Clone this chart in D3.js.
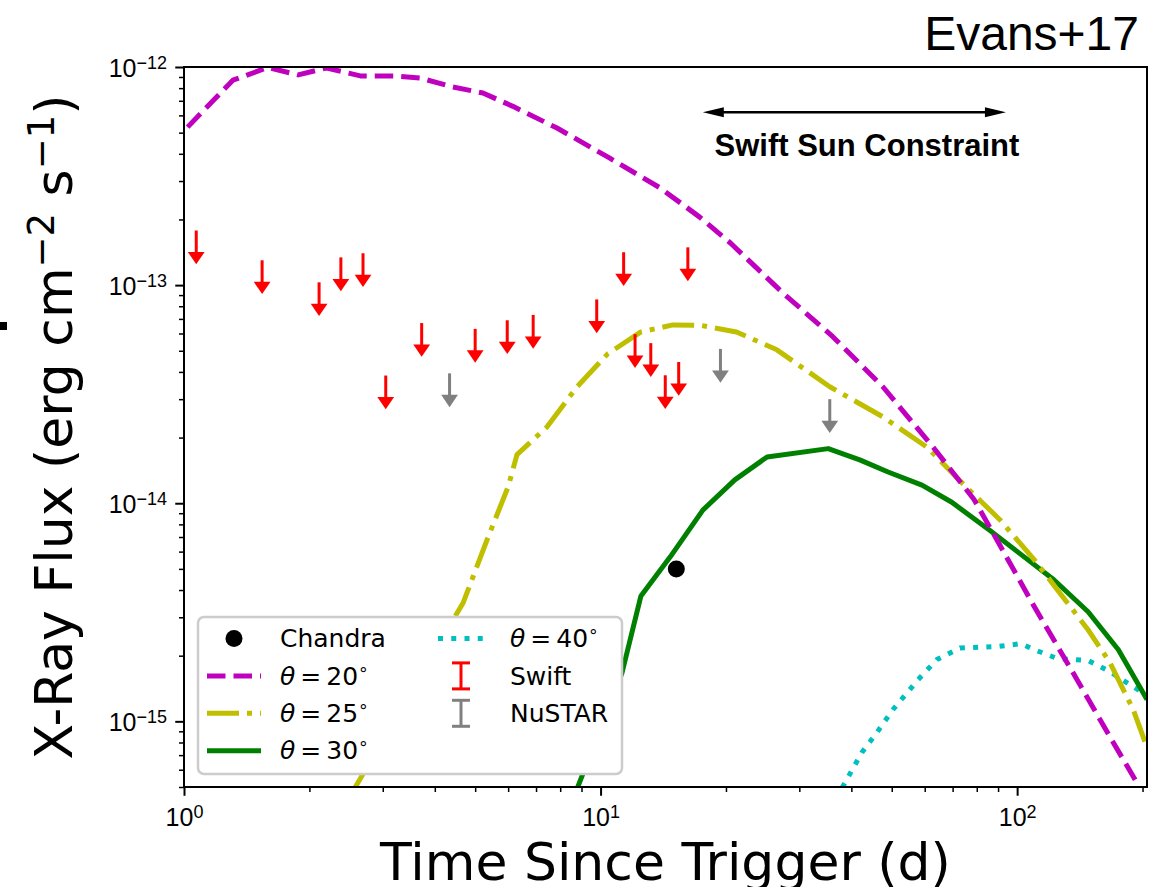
<!DOCTYPE html>
<html>
<head>
<meta charset="utf-8">
<script src="https://cdn.jsdelivr.net/npm/d3@7"></script>
<style>
  body { margin: 0; background: #fff; }
  svg { display: block; font-family: "DejaVu Sans", sans-serif; }
</style>
</head>
<body>
<svg id="chart" width="1165" height="887"></svg>
<script>
// model light curves, [time (d), flux (erg cm^-2 s^-1)]
const theta20 = [[1.02,5.3e-13],[1.31,8.7e-13],[1.59,9.95e-13],[1.88,9.2e-13],[2.2,9.9e-13],[2.65,9.1e-13],
  [3.18,9.1e-13],[3.69,8.9e-13],[4.42,8.1e-13],[5.22,7.6e-13],[6.16,6.6e-13],[7.86,5.25e-13],[10.5,3.83e-13],
  [13.9,2.79e-13],[17.3,2.05e-13],[20.5,1.56e-13],[27.4,9.2e-14],[36.1,5.8e-14],[47.6,3.42e-14],[62.8,1.81e-14],
  [78.8,1.04e-14],[89.4,6.8e-15],[110,3.35e-15],[135,1.72e-15],[167,8.5e-16],[192,5.4e-16]];
const theta25 = [[2.48,4.4e-16],[4.68,3.5e-15],[5.34,6.8e-15],[6.0,1.19e-14],[6.3,1.67e-14],[7.44,2.24e-14],
  [8.78,3.42e-14],[10.4,4.84e-14],[12.5,6.1e-14],[14.9,6.57e-14],[17.3,6.55e-14],[21.2,6.1e-14],[26.5,5.05e-14],
  [35.5,3.42e-14],[47.6,2.49e-14],[60.7,1.81e-14],[72.5,1.28e-14],[90.9,8.4e-15],[110,5.5e-15],[148,2.63e-15],
  [167,1.86e-15],[190,1.13e-15],[205,7.6e-16]];
const theta30 = [[8.59,4.4e-16],[11.26,1.67e-15],[12.5,3.76e-15],[14.7,5.68e-15],[17.6,9.3e-15],[21.0,1.28e-14],
  [25.1,1.63e-14],[35.2,1.78e-14],[41.9,1.58e-14],[49.0,1.39e-14],[59.1,1.21e-14],[69.7,1.01e-14],[85.6,7.55e-15],
  [101,5.92e-15],[122.5,4.46e-15],[148,3.18e-15],[175,2.13e-15],[205,1.26e-15]];
const theta40 = [[36.7,4.4e-16],[42.4,7.2e-16],[46.1,8.9e-16],[50.3,1.13e-15],[57.8,1.55e-15],[64.2,1.92e-15],
  [72.9,2.17e-15],[89.4,2.2e-15],[102,2.27e-15],[110,2.13e-15],[125,1.94e-15],[148,1.9e-15],[167,1.69e-15],
  [190,1.44e-15],[205,1.32e-15]];

// observations
const chandra = [[15.2,5.0e-15]];
const swift = [[1.07,1.78e-13],[1.54,1.3e-13],[2.11,1.03e-13],[2.38,1.34e-13],[2.69,1.4e-13],[3.05,3.85e-14],
  [3.72,6.7e-14],[5.0,6.3e-14],[5.97,6.9e-14],[6.89,7.3e-14],[9.79,8.6e-14],[11.36,1.415e-13],[12.1,5.96e-14],
  [13.2,5.42e-14],[14.3,3.86e-14],[15.4,4.44e-14],[16.2,1.49e-13]];
const nustar = [[4.34,3.94e-14],[19.4,5.1e-14],[35.5,3.0e-14]];

// axes
const xTicks = [1, 10, 100];
const xTickExp = ["0", "1", "2"];
const yTicks = [1e-12, 1e-13, 1e-14, 1e-15];
const yTickExp = ["\u221212", "\u221213", "\u221214", "\u221215"];

// annotation
const sunSpan = [17.6, 94];
const sunLevel = 6.2e-13;
const sunLabelAt = [43.6, 3.9e-13];

const svg = d3.select("#chart");
const L = 184, R = 1147, T = 67, B = 787;

const x = d3.scaleLog().domain([1, 205]).range([L, R]);
const y = d3.scaleLog().domain([5e-16, 1e-12]).range([B, T]);

svg.append("defs").append("clipPath").attr("id", "clip")
  .append("rect").attr("x", L).attr("y", T).attr("width", R - L).attr("height", B - T);

// minor ticks
const xMinor = [], yMinor = [];
for (let d = 0; d <= 2; d++) for (let k = 2; k <= 9; k++) {
  const v = k * Math.pow(10, d);
  if (v <= 205) xMinor.push(v);
}
for (let d = -16; d <= -13; d++) for (let k = 2; k <= 9; k++) {
  const v = k * Math.pow(10, d);
  if (v >= 5e-16 && v <= 1e-12) yMinor.push(v);
}

function axisStyle(g, w) {
  g.select(".domain").remove();
  g.selectAll(".tick line").attr("stroke", "#000").attr("stroke-width", w);
  g.selectAll(".tick text").remove();
}

svg.append("g").attr("transform", `translate(0,${B})`)
  .call(d3.axisBottom(x).tickValues(xMinor).tickSize(5).tickFormat(""))
  .call(g => axisStyle(g, 1.5));
const xMajor = svg.append("g").attr("transform", `translate(0,${B})`)
  .call(d3.axisBottom(x).tickValues(xTicks).tickSize(8.75).tickFormat(""))
  .call(g => axisStyle(g, 2));
svg.append("g").attr("transform", `translate(${L},0)`)
  .call(d3.axisLeft(y).tickValues(yMinor).tickSize(5).tickFormat(""))
  .call(g => axisStyle(g, 1.5));
const yMajor = svg.append("g").attr("transform", `translate(${L},0)`)
  .call(d3.axisLeft(y).tickValues(yTicks).tickSize(8.75).tickFormat(""))
  .call(g => axisStyle(g, 2));

xMajor.selectAll(".tick").each(function(d, i) {
  const t = d3.select(this).append("text").attr("y", 39).attr("text-anchor", "middle")
    .attr("fill", "#000").attr("font-size", 25);
  t.append("tspan").text("10");
  t.append("tspan").attr("font-size", 18).attr("dy", -7.7).text(xTickExp[i]);
});
yMajor.selectAll(".tick").each(function(d, i) {
  const t = d3.select(this).append("text").attr("x", -17).attr("y", 9).attr("text-anchor", "end")
    .attr("fill", "#000").attr("font-size", 25);
  t.append("tspan").text("10");
  t.append("tspan").attr("font-size", 18).attr("dy", -7.7).text(yTickExp[i]);
});

// curves
const plot = svg.append("g").attr("clip-path", "url(#clip)");
const line = d3.line().x(d => x(d[0])).y(d => y(d[1]));
const curves = [
  { data: theta40, color: "#00bfbf", dash: "5,8.25" },
  { data: theta30, color: "#008000", dash: null },
  { data: theta25, color: "#bfbf00", dash: "32,8,5,8" },
  { data: theta20, color: "#bf00bf", dash: "18.5,8" }
];
curves.forEach(c => {
  plot.append("path").datum(c.data).attr("d", line)
    .attr("fill", "none").attr("stroke", c.color).attr("stroke-width", 5)
    .attr("stroke-linejoin", "round")
    .attr("stroke-dasharray", c.dash);
});

// upper limits
function drawLimits(data, color) {
  const g = plot.append("g");
  data.forEach(([t, f]) => {
    const cx = x(t), top = y(f), tip = y(f * 0.7);
    g.append("line").attr("x1", cx).attr("x2", cx).attr("y1", top).attr("y2", tip - 10)
      .attr("stroke", color).attr("stroke-width", 3);
    g.append("path").attr("d", `M${cx - 8.4},${tip - 12.3}L${cx + 8.4},${tip - 12.3}L${cx},${tip}Z`)
      .attr("fill", color);
  });
}
drawLimits(swift, "#ff0000");
drawLimits(nustar, "#808080");

plot.selectAll(".chandra").data(chandra).join("circle")
  .attr("cx", d => x(d[0])).attr("cy", d => y(d[1])).attr("r", 8.5).attr("fill", "#000");

// frame
svg.append("rect").attr("x", L).attr("y", T).attr("width", R - L).attr("height", B - T)
  .attr("fill", "none").attr("stroke", "#000").attr("stroke-width", 2);

// sun constraint annotation
const sy = y(sunLevel), sx0 = x(sunSpan[0]), sx1 = x(sunSpan[1]);
svg.append("line").attr("x1", sx0 + 12).attr("x2", sx1 - 12).attr("y1", sy).attr("y2", sy)
  .attr("stroke", "#000").attr("stroke-width", 2.5);
svg.append("path").attr("d", `M${sx0},${sy}L${sx0 + 21},${sy - 5}L${sx0 + 21},${sy + 5}Z`).attr("fill", "#000");
svg.append("path").attr("d", `M${sx1},${sy}L${sx1 - 21},${sy - 5}L${sx1 - 21},${sy + 5}Z`).attr("fill", "#000");
svg.append("text").attr("x", x(sunLabelAt[0])).attr("y", y(sunLabelAt[1])).attr("text-anchor", "middle")
  .attr("font-family", "Liberation Sans, Arial, sans-serif").attr("font-weight", "bold")
  .attr("font-size", 31).text("Swift Sun Constraint");

svg.append("text").attr("x", 1139).attr("y", 50).attr("text-anchor", "end")
  .attr("font-family", "Liberation Sans, Arial, sans-serif").attr("font-size", 48).text("Evans+17");

// stray crop fragment at the left edge
svg.append("rect").attr("x", 0).attr("y", 322).attr("width", 7).attr("height", 8).attr("fill", "#000");

// axis labels
svg.append("text").attr("x", (L + R) / 2).attr("y", 880).attr("text-anchor", "middle")
  .attr("font-size", 52).text("Time Since Trigger (d)");
const yl = svg.append("text").attr("transform", `translate(72,${(T + B) / 2}) rotate(-90)`)
  .attr("text-anchor", "middle").attr("font-size", 52);
yl.append("tspan").text("X-Ray Flux (erg cm");
yl.append("tspan").attr("font-size", 37).attr("dy", -18).text("\u22122");
yl.append("tspan").attr("dy", 18).text(" s");
yl.append("tspan").attr("font-size", 37).attr("dy", -18).text("\u22121");
yl.append("tspan").attr("dy", 18).text(")");

// legend
const lg = svg.append("g");
lg.append("rect").attr("x", 198).attr("y", 617).attr("width", 424).attr("height", 157).attr("rx", 6)
  .attr("fill", "#fff").attr("stroke", "#cccccc").attr("stroke-width", 2.5);
const rowY = i => 638.5 + i * 37.4;
const col = [{ h0: 207, h1: 261, tx: 280 }, { h0: 438, h1: 484, tx: 510 }];
const legendItems = [
  { label: "Chandra", kind: "dot", color: "#000", c: 0, r: 0 },
  { label: "20", kind: "line", curve: curves[3], c: 0, r: 1 },
  { label: "25", kind: "line", curve: curves[2], c: 0, r: 2 },
  { label: "30", kind: "line", curve: curves[1], c: 0, r: 3 },
  { label: "40", kind: "line", curve: curves[0], c: 1, r: 0 },
  { label: "Swift", kind: "bar", color: "#ff0000", c: 1, r: 1 },
  { label: "NuSTAR", kind: "bar", color: "#808080", c: 1, r: 2 }
];
legendItems.forEach(it => {
  const cy = rowY(it.r), cc = col[it.c], mid = (cc.h0 + cc.h1) / 2;
  if (it.kind === "dot") {
    lg.append("circle").attr("cx", mid).attr("cy", cy).attr("r", 8.5).attr("fill", it.color);
  } else if (it.kind === "line") {
    lg.append("line").attr("x1", cc.h0).attr("x2", cc.h1).attr("y1", cy).attr("y2", cy)
      .attr("stroke", it.curve.color).attr("stroke-width", 5).attr("stroke-dasharray", it.curve.dash);
  } else {
    lg.append("line").attr("x1", mid).attr("x2", mid).attr("y1", cy - 13).attr("y2", cy + 13)
      .attr("stroke", it.color).attr("stroke-width", 3);
    [cy - 13, cy + 13].forEach(v => lg.append("line").attr("x1", mid - 9).attr("x2", mid + 9)
      .attr("y1", v).attr("y2", v).attr("stroke", it.color).attr("stroke-width", 3));
  }
  const t = lg.append("text").attr("x", cc.tx).attr("y", cy + 8.7).attr("font-size", 25);
  if (it.kind === "line") {
    t.append("tspan").attr("font-style", "italic").text("\u03b8");
    t.append("tspan").text("\u2009=\u2009" + it.label);
    t.append("tspan").attr("font-size", 17).attr("dy", -10).text("\u2218");
  } else {
    t.text(it.label);
  }
});
</script>
</body>
</html>
